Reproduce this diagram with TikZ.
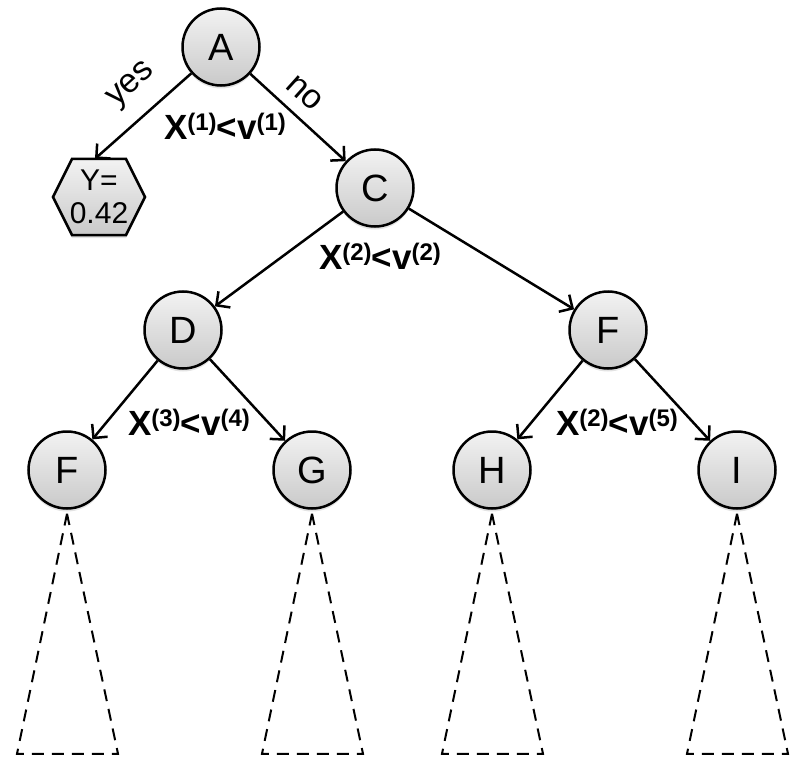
\documentclass[tikz,border=0pt]{standalone}
\usepackage{fontspec}
\setmainfont{Liberation Sans}
\usetikzlibrary{arrows.meta,shadows,calc}
% raised, smaller index in the split conditions
\newcommand{\spx}[1]{\raisebox{9pt}{\fontsize{24}{24}\selectfont #1}}
\begin{document}
\begin{tikzpicture}[x=1pt,y=-1pt,
  tnode/.style={circle, draw, line width=2.5pt, minimum size=77pt, inner sep=0pt,
    top color=gray!10, bottom color=gray!42,
    drop shadow={opacity=0.22, shadow xshift=0pt, shadow yshift=-3pt},
    font=\fontsize{38}{38}\selectfont},
  leafshape/.style={draw, line width=2.5pt, top color=gray!10, bottom color=gray!42,
    drop shadow={opacity=0.22, shadow xshift=0pt, shadow yshift=-3pt}},
  edge/.style={line width=2.5pt, -{Straight Barb[length=10pt,width=20pt]}},
  cond/.style={font=\bfseries\fontsize{35}{35}\selectfont, inner sep=0pt},
  branch/.style={font=\fontsize{34}{34}\selectfont, inner sep=0pt},
  subtree/.style={line width=2pt, dash pattern=on 12pt off 8pt}
]
\useasboundingbox (0,0) rectangle (798,773);

% tree nodes
\node[tnode] (A)  at (221,47)  {A};
\node[tnode] (C)  at (375,188) {C};
\node[tnode] (D)  at (183,330) {D};
\node[tnode] (F2) at (608,330) {F};
\node[tnode] (F1) at (67,470)  {F};
\node[tnode] (G)  at (312,470) {G};
\node[tnode] (H)  at (492,470) {H};
\node[tnode] (I)  at (737,470) {I};

% leaf with the predicted value
\coordinate (hc) at (99,197);
\path[leafshape] ($(hc)+(-46,0)$) -- ($(hc)+(-27,-38)$) -- ($(hc)+(27,-38)$)
  -- ($(hc)+(46,0)$) -- ($(hc)+(27,38)$) -- ($(hc)+(-27,38)$) -- cycle;
\node[minimum width=92pt, minimum height=76pt, inner sep=0pt, align=center,
  font=\fontsize{30}{33}\selectfont] (hex) at (hc) {Y=\\0.42};

% branches
\draw[edge] (A) -- ([xshift=-4pt]hex.north);
\draw[edge] (A) -- (C);
\draw[edge] (C) -- (D);
\draw[edge] (C) -- (F2);
\draw[edge] (D) -- (F1);
\draw[edge] (D) -- (G);
\draw[edge] (F2) -- (H);
\draw[edge] (F2) -- (I);

% branch labels
\node[branch, rotate=42]  (yes) at (132,86) {yes};
\node[branch, rotate=-42] (no)  at (305,93) {no};

% split conditions
\node[cond] (s1) at (225,126) {X\spx{(1)}<v\spx{(1)}};
\node[cond] (s2) at (380,256) {X\spx{(2)}<v\spx{(2)}};
\node[cond] (s3) at (189,422) {X\spx{(3)}<v\spx{(4)}};
\node[cond] (s4) at (617,422) {X\spx{(2)}<v\spx{(5)}};

% unexpanded subtrees
\foreach \n in {F1,G,H,I}
  \draw[subtree] ([yshift=-4pt]\n.south) -- +(-50,240) -- +(51,240) -- cycle;
\end{tikzpicture}
\end{document}
